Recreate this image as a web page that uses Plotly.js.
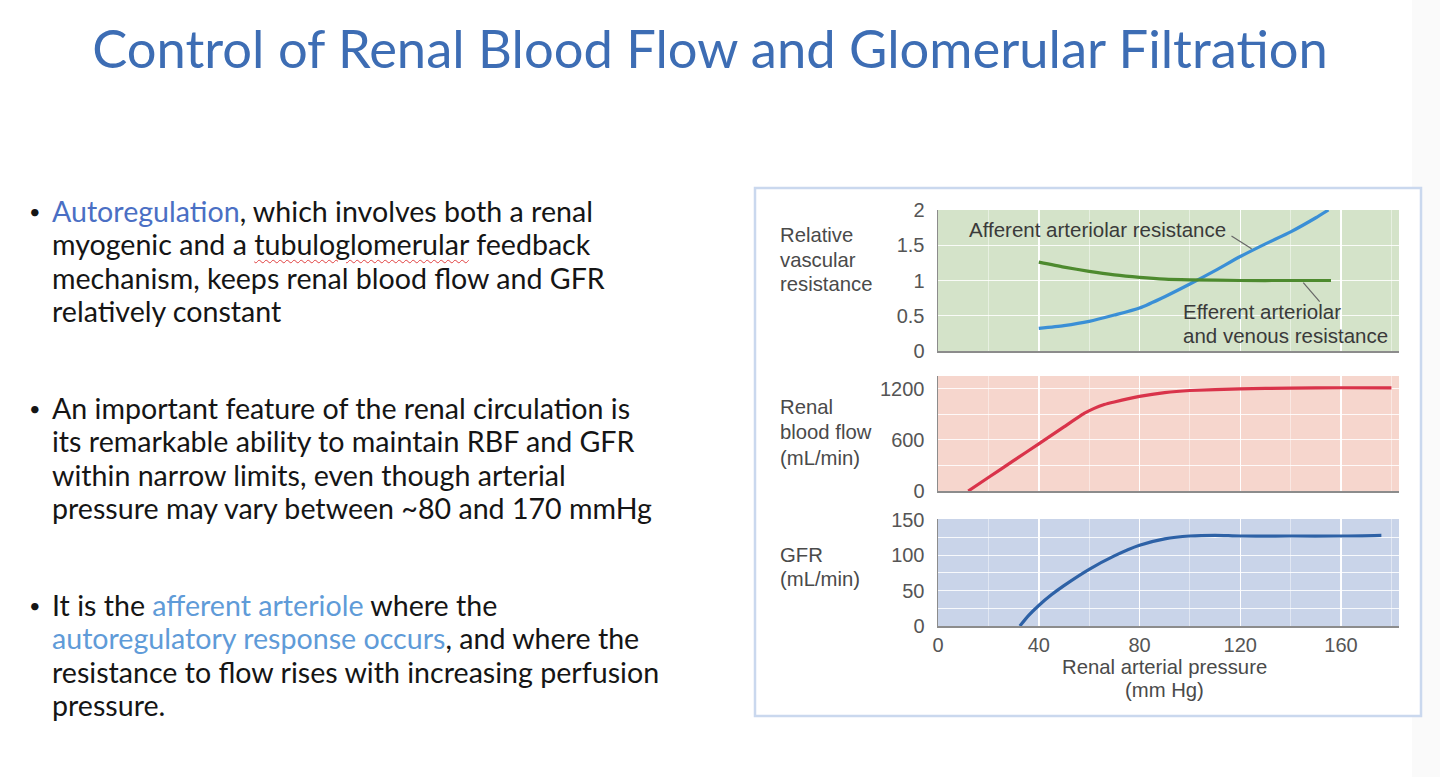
<!DOCTYPE html>
<html>
<head>
<meta charset="utf-8">
<script src="https://cdn.plot.ly/plotly-3.0.1.min.js"></script>
<style>
  html, body { margin:0; padding:0; background:#ffffff; }
  #wrap { position:relative; width:1440px; height:777px; overflow:hidden; }
  #chart { position:absolute; left:0; top:0; width:1440px; height:777px; }
  .bullet { position:absolute; left:52px; font-family:Lato, "Open Sans", sans-serif; font-size:28.6px; line-height:33.3px; color:#151515; pointer-events:none; white-space:nowrap; }
  .bullet .dot { position:absolute; left:-23px; top:0; font-size:20px; }
  .c1 { color:#4a6fc4; }
  .c2 { color:#5f9bd8; }
  .wavy { text-decoration: underline wavy #e04040; text-decoration-thickness:1px; text-underline-offset:4px; }
</style>
</head>
<body>
<div id="wrap">
  <div id="chart"></div>
  <div class="bullet" style="top:195px"><span class="dot">•</span><span class="c1">Autoregulation</span>, which involves both a renal<br>myogenic and a <span class="wavy">tubuloglomerular</span> feedback<br>mechanism, keeps renal blood flow and GFR<br>relatively constant</div>
  <div class="bullet" style="top:392px"><span class="dot">•</span>An important feature of the renal circulation is<br>its remarkable ability to maintain RBF and GFR<br>within narrow limits, even though arterial<br>pressure may vary between ~80 and 170 mmHg</div>
  <div class="bullet" style="top:589px"><span class="dot">•</span>It is the <span class="c2">afferent arteriole</span> where the<br><span class="c2">autoregulatory response occurs</span>, and where the<br>resistance to flow rises with increasing perfusion<br>pressure.</div>
</div>
<script>
// ---- data ----
const pressureTicks = [0, 40, 80, 120, 160];

const afferentX = [40, 50, 60, 70, 80, 90, 100, 110, 120, 130, 140, 150, 155];
const afferentY = [0.32, 0.36, 0.42, 0.51, 0.61, 0.77, 0.95, 1.14, 1.34, 1.52, 1.69, 1.89, 2.0];

const efferentX = [40, 50, 60, 70, 80, 90, 100, 120, 140, 156];
const efferentY = [1.26, 1.19, 1.13, 1.08, 1.045, 1.02, 1.01, 1.0, 1.0, 1.0];

const rbfX = [12, 20, 30, 40, 50, 58, 62, 66, 70, 80, 90, 100, 120, 140, 160, 180];
const rbfY = [0, 158, 356, 554, 752, 910, 970, 1015, 1045, 1110, 1155, 1180, 1200, 1208, 1212, 1210];

const gfrX = [32.5, 36, 40, 45, 50, 60, 70, 80, 90, 100, 110, 120, 140, 160, 176];
const gfrY = [0, 15, 29, 44, 57, 80, 99, 114, 123, 127, 128, 127, 127, 127, 128];

const resTicks = [0, 0.5, 1, 1.5, 2];
const resTickText = ['0', '0.5', '1', '1.5', '2'];
const rbfTicks = [0, 300, 600, 900, 1200];
const rbfTickText = ['0', '', '600', '', '1200'];
const gfrTicks = [0, 25, 50, 75, 100, 125, 150];
const gfrTickText = ['0', '', '50', '', '100', '', '150'];

const resTitle = ['Relative', 'vascular', 'resistance'];
const rbfTitle = ['Renal', 'blood flow', '(mL/min)'];
const gfrTitle = ['GFR', '(mL/min)'];
const xTitle = ['Renal arterial pressure', '(mm Hg)'];

// ---- layout helpers ----
const W = 1440, H = 777;
const px = v => v / W;
const py = v => 1 - v / H;
const xDom = [px(938), px(1399)];
const tickFont = {family: 'Liberation Sans, Arial, sans-serif', size: 20, color: '#555555'};
const labFont = {family: 'Liberation Sans, Arial, sans-serif', size: 20.3, color: '#4a4a4a'};
const annFont = {family: 'Liberation Sans, Arial, sans-serif', size: 20.5, color: '#3a3a3a'};

function xAxis(anchor, showLabels) {
  return {
    domain: xDom, range: [0, 183], anchor: anchor,
    tickmode: 'array', tickvals: pressureTicks, ticktext: pressureTicks.map(String),
    showticklabels: showLabels, ticks: '', ticklabelstandoff: 0,
    tickfont: tickFont,
    showgrid: true, gridcolor: 'rgba(255,255,255,0.95)', gridwidth: 1.5,
    minor: {dtick: 20, tick0: 0, showgrid: true, gridcolor: 'rgba(255,255,255,0.45)', gridwidth: 1},
    zeroline: false, showline: true, linecolor: '#8c8c8c', linewidth: 1.5,
    fixedrange: true
  };
}
function yAxis(domain, range, anchor, tv, tt) {
  return {
    domain: domain, range: range, anchor: anchor,
    tickmode: 'array', tickvals: tv, ticktext: tt,
    ticks: '', ticklabelstandoff: 8, tickfont: tickFont,
    showgrid: true, gridcolor: 'rgba(255,255,255,0.85)', gridwidth: 1.2,
    zeroline: false, showline: true, linecolor: '#8c8c8c', linewidth: 1.5,
    fixedrange: true
  };
}

const traces = [
  {x: afferentX, y: afferentY, xaxis: 'x3', yaxis: 'y', type: 'scatter', mode: 'lines',
   name: 'Afferent arteriolar resistance', line: {color: '#3a8fd6', width: 3.2, shape: 'spline', smoothing: 0.6}},
  {x: efferentX, y: efferentY, xaxis: 'x3', yaxis: 'y', type: 'scatter', mode: 'lines',
   name: 'Efferent arteriolar and venous resistance', line: {color: '#4d8a2e', width: 3.2, shape: 'spline', smoothing: 0.6}},
  {x: rbfX, y: rbfY, xaxis: 'x2', yaxis: 'y2', type: 'scatter', mode: 'lines',
   name: 'Renal blood flow', line: {color: '#d9334a', width: 3.2, shape: 'spline', smoothing: 0.4}},
  {x: gfrX, y: gfrY, xaxis: 'x', yaxis: 'y3', type: 'scatter', mode: 'lines',
   name: 'GFR', line: {color: '#2d61a6', width: 3.2, shape: 'spline', smoothing: 0.8}}
];

function lineAnns(lines, xPix, firstY, step, anchor) {
  return lines.map((t, i) => ({
    text: t, xref: 'paper', yref: 'paper', x: px(xPix), y: py(firstY + i * step),
    xanchor: anchor, yanchor: 'middle', showarrow: false, font: labFont
  }));
}

const layout = {
  width: W, height: H,
  margin: {l: 0, r: 0, t: 0, b: 0},
  paper_bgcolor: 'rgba(0,0,0,0)', plot_bgcolor: 'rgba(0,0,0,0)',
  showlegend: false,
  title: {
    text: 'Control of Renal Blood Flow and Glomerular Filtration',
    x: px(710), xanchor: 'center', y: py(50), yanchor: 'middle',
    font: {family: 'Lato, "Open Sans", sans-serif', size: 52.5, color: '#3d6db4', weight: 400}
  },
  xaxis: xAxis('y3', true),
  xaxis2: xAxis('y2', false),
  xaxis3: xAxis('y', false),
  yaxis: yAxis([py(351), py(210)], [0, 2], 'x3', resTicks, resTickText),
  yaxis2: yAxis([py(491), py(376)], [0, 1350], 'x2', rbfTicks, rbfTickText),
  yaxis3: yAxis([py(626), py(519)], [0, 151], 'x', gfrTicks, gfrTickText),
  shapes: [
    {type: 'rect', xref: 'paper', yref: 'paper', x0: px(1412), x1: 1, y0: 0, y1: 1,
     fillcolor: '#fafafa', line: {width: 0}, layer: 'below'},
    {type: 'rect', xref: 'paper', yref: 'paper', x0: px(755), x1: px(1421), y0: py(716), y1: py(188),
     fillcolor: '#ffffff', line: {color: '#cad8ee', width: 2.5}, layer: 'below'},
    {type: 'rect', xref: 'x3 domain', yref: 'y domain', x0: 0, x1: 1, y0: 0, y1: 1,
     fillcolor: '#d4e3c9', line: {width: 0}, layer: 'below'},
    {type: 'rect', xref: 'x2 domain', yref: 'y2 domain', x0: 0, x1: 1, y0: 0, y1: 1,
     fillcolor: '#f6d6cd', line: {width: 0}, layer: 'below'},
    {type: 'rect', xref: 'x domain', yref: 'y3 domain', x0: 0, x1: 1, y0: 0, y1: 1,
     fillcolor: '#c9d4e9', line: {width: 0}, layer: 'below'},
    {type: 'line', xref: 'x3', yref: 'y', x0: 116.5, y0: 1.63, x1: 124.5, y1: 1.45,
     line: {color: '#666666', width: 1.2}},
    {type: 'line', xref: 'x3', yref: 'y', x0: 145, y0: 0.97, x1: 151.5, y1: 0.70,
     line: {color: '#666666', width: 1.2}}
  ],
  annotations: [
    {text: 'Afferent arteriolar resistance', xref: 'x3', yref: 'y', x: 11.5, y: 1.72,
     xanchor: 'left', yanchor: 'middle', showarrow: false, font: annFont},
    {text: 'Efferent arteriolar', xref: 'x3', yref: 'y', x: 96.5, y: 0.567,
     xanchor: 'left', yanchor: 'middle', showarrow: false, font: annFont},
    {text: 'and venous resistance', xref: 'x3', yref: 'y', x: 96.5, y: 0.213,
     xanchor: 'left', yanchor: 'middle', showarrow: false, font: annFont}
  ].concat(
    lineAnns(resTitle, 778, 235, 24.5, 'left'),
    lineAnns(rbfTitle, 778, 407, 25.5, 'left'),
    lineAnns(gfrTitle, 778, 555, 24, 'left'),
    lineAnns(xTitle, 1164, 667, 23, 'center')
  )
};

Plotly.newPlot('chart', traces, layout, {displayModeBar: false, staticPlot: true});
</script>
</body>
</html>
